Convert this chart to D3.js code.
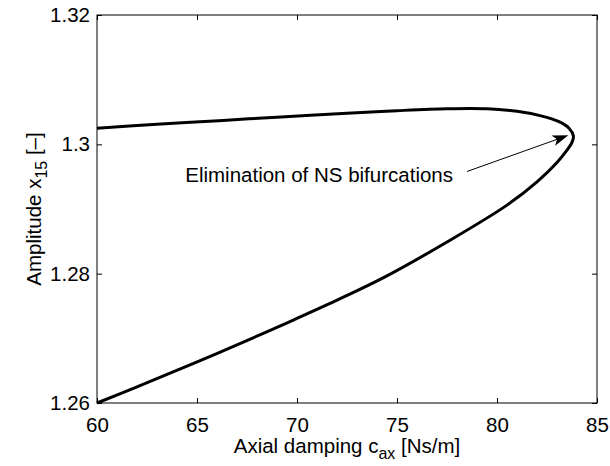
<!DOCTYPE html>
<html>
<head>
<meta charset="utf-8">
<script src="https://cdn.jsdelivr.net/npm/d3@7"></script>
<style>
  html, body { margin: 0; padding: 0; background: #fff; }
  text { font-family: "Liberation Sans", Arial, Helvetica, sans-serif; fill: #000; }
</style>
</head>
<body>
<svg id="chart" width="610" height="466"></svg>
<script>
// ---- data, ordered along the branch ----
const cax = [60, 63, 66.3, 69, 72.5, 75, 77.5, 79.5, 81, 82.2, 83.1, 83.6, 83.82,
             83.75, 83.5, 83.0, 82.0, 80.5, 77.5, 74.4, 72, 69.65, 67, 64.65, 62, 60];
const amp = [1.3025, 1.3031, 1.3037, 1.3042, 1.3048, 1.3052, 1.3055, 1.3055, 1.3051, 1.3044, 1.3035, 1.3025, 1.3013,
             1.3003, 1.2991, 1.2972, 1.2942, 1.2906, 1.2849, 1.2795, 1.2759, 1.2726, 1.2690, 1.2659, 1.2625, 1.2600];
const xTicks = [60, 65, 70, 75, 80, 85];
const yTicks = [1.26, 1.28, 1.30, 1.32];
const yTickLabels = ["1.26", "1.28", "1.3", "1.32"];
const annotText = "Elimination of NS bifurcations";
const annotAt = [77.8, 1.2942];
const arrowFrom = [78.5, 1.2958];
const arrowTo = [83.57, 1.3014];

// ---- layout ----
const L = 97, R = 597, T = 15, B = 403;
const FS = 20.5;
const svg = d3.select("#chart");
const x = d3.scaleLinear().domain([60, 85]).range([L, R]);
const y = d3.scaleLinear().domain([1.26, 1.32]).range([B, T]);

// frame
svg.append("rect").attr("x", L).attr("y", T).attr("width", R - L).attr("height", B - T)
  .attr("fill", "none").attr("stroke", "#000").attr("stroke-width", 1);

// axes with inward ticks
const gx = svg.append("g").attr("transform", `translate(0,${B})`)
  .call(d3.axisBottom(x).tickValues(xTicks).tickSizeInner(-5).tickSizeOuter(0).tickPadding(14));
const gxt = svg.append("g").attr("transform", `translate(0,${T})`)
  .call(d3.axisTop(x).tickValues(xTicks).tickSizeInner(-5).tickSizeOuter(0).tickFormat(""));
const gy = svg.append("g").attr("transform", `translate(${L},0)`)
  .call(d3.axisLeft(y).tickValues(yTicks).tickSizeInner(-5).tickSizeOuter(0).tickPadding(7)
    .tickFormat((d, i) => yTickLabels[i]));
const gyr = svg.append("g").attr("transform", `translate(${R},0)`)
  .call(d3.axisRight(y).tickValues(yTicks).tickSizeInner(-5).tickSizeOuter(0).tickFormat(""));
[gx, gxt, gy, gyr].forEach(g => {
  g.select(".domain").remove();
  g.selectAll(".tick line").attr("stroke", "#000").attr("stroke-width", 1);
  g.selectAll(".tick text").attr("font-size", FS).attr("font-family", "Liberation Sans, Arial, sans-serif").attr("fill", "#000");
});

// curve
const pts = cax.map((c, i) => [c, amp[i]]);
svg.append("path")
  .datum(pts)
  .attr("fill", "none").attr("stroke", "#000").attr("stroke-width", 3)
  .attr("stroke-linejoin", "round").attr("stroke-linecap", "butt")
  .attr("d", d3.line().x(d => x(d[0])).y(d => y(d[1])).curve(d3.curveCatmullRom.alpha(0.5)));

// annotation text
svg.append("text").attr("x", x(annotAt[0])).attr("y", y(annotAt[1]))
  .attr("text-anchor", "end").attr("font-size", FS).text(annotText);

// arrow
const x0 = x(arrowFrom[0]), y0 = y(arrowFrom[1]), x1 = x(arrowTo[0]), y1 = y(arrowTo[1]);
const ang = Math.atan2(y1 - y0, x1 - x0);
const hl = 16, hw = 5.5, notch = 4;
const ux = Math.cos(ang), uy = Math.sin(ang), px = -uy, py = ux;
svg.append("line").attr("x1", x0).attr("y1", y0)
  .attr("x2", x1 - ux * (hl - notch)).attr("y2", y1 - uy * (hl - notch))
  .attr("stroke", "#000").attr("stroke-width", 1);
const head = [
  [x1, y1],
  [x1 - ux * hl + px * hw, y1 - uy * hl + py * hw],
  [x1 - ux * (hl - notch), y1 - uy * (hl - notch)],
  [x1 - ux * hl - px * hw, y1 - uy * hl - py * hw]
];
svg.append("path").attr("d", "M" + head.map(p => p.join(",")).join("L") + "Z").attr("fill", "#000");

// x-axis label
const xl = svg.append("text").attr("x", (L + R) / 2).attr("y", 453)
  .attr("text-anchor", "middle").attr("font-size", FS);
xl.append("tspan").text("Axial damping c");
xl.append("tspan").attr("dy", 6).attr("font-size", FS * 0.78).text("ax");
xl.append("tspan").attr("dy", -6).text(" [Ns/m]");

// y-axis label
const yl = svg.append("text").attr("transform", `translate(41,${(T + B) / 2}) rotate(-90)`)
  .attr("text-anchor", "middle").attr("font-size", FS);
yl.append("tspan").text("Amplitude x");
yl.append("tspan").attr("dy", 6).attr("font-size", FS * 0.78).text("15");
yl.append("tspan").attr("dy", -6).text(" [–]");
</script>
</body>
</html>
